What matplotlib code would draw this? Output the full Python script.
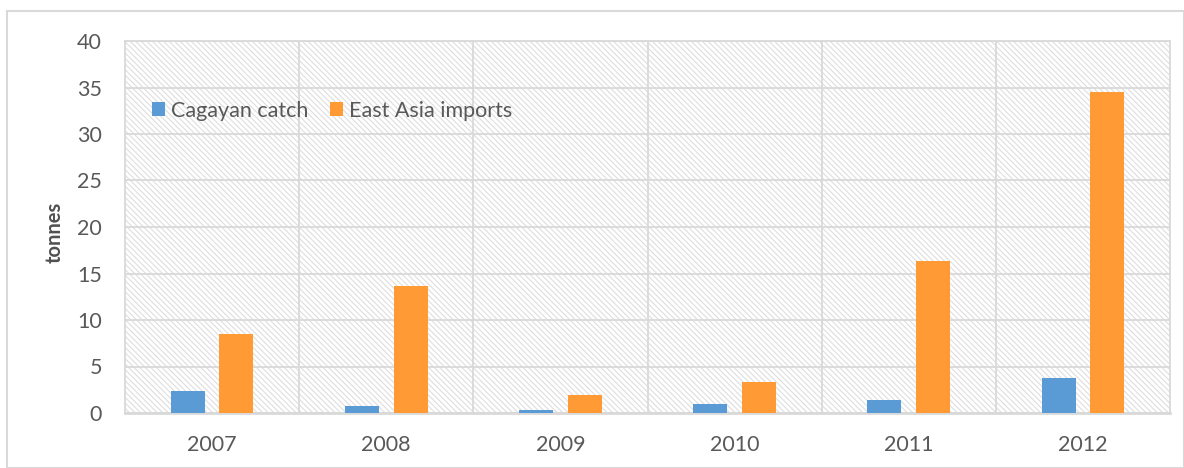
import matplotlib
matplotlib.use("Agg")
import matplotlib.pyplot as plt
import numpy as np
from matplotlib.patches import Rectangle

years = ["2007", "2008", "2009", "2010", "2011", "2012"]
cagayan = [2.4, 0.8, 0.3, 1.0, 1.4, 3.75]
east_asia = [8.5, 13.7, 1.9, 3.3, 16.3, 34.5]

blue = "#5b9bd5"
orange = "#ff9a35"
grid_c = "#d9d9d9"
text_c = "#595959"

plt.rcParams["font.family"] = ["Lato", "DejaVu Sans"]
plt.rcParams["hatch.color"] = "#dedede"
plt.rcParams["hatch.linewidth"] = 0.8

fig = plt.figure(figsize=(11.84, 4.68), dpi=100)
ax = fig.add_axes([125/1184, 55/468, 1045/1184, 372/468])

ax.patch.set_facecolor("white")
ax.patch.set_hatch("\\\\\\\\\\\\")
ax.patch.set_edgecolor("#dedede")

x = np.arange(len(years))
w = 0.195
off = 0.14
ax.bar(x - off, cagayan, w, color=blue, label="Cagayan catch", zorder=3)
ax.bar(x + off, east_asia, w, color=orange, label="East Asia imports", zorder=3)

ax.set_xlim(-0.5, len(years) - 0.5)
ax.set_ylim(0, 40)
ax.set_yticks(range(0, 41, 5))
ax.set_xticks(x)
ax.set_xticklabels(years)
ax.set_xticks(np.arange(0.5, len(years) - 0.5, 1), minor=True)
ax.grid(True, which="major", axis="y", color=grid_c, linewidth=1.3, zorder=1)
ax.grid(True, which="minor", axis="x", color=grid_c, linewidth=1.3, zorder=1)
ax.set_axisbelow(True)
for s in ax.spines.values():
    s.set_color(grid_c)
    s.set_linewidth(1.3)
ax.spines["bottom"].set_linewidth(2)
ax.tick_params(which="both", length=0, colors=text_c, labelsize=15.5)
ax.tick_params(axis="x", pad=16)
ax.tick_params(axis="y", pad=16.5)

ax.set_ylabel("tonnes", fontsize=14.5, fontweight="bold", color="#505050")
ax.yaxis.label.set_verticalalignment("center")
ax.yaxis.set_label_coords(-70/1045, (413 - 232) / 372)

leg = ax.legend(loc="upper left", bbox_to_anchor=(0.009, 0.885), ncol=2, frameon=False,
                fontsize=15.5, handlelength=0.62, handleheight=0.62, handletextpad=0.28,
                columnspacing=1.0, labelcolor=text_c, borderpad=0.3)

fig.patches.append(Rectangle((7/1184, 0), 1 - 7/1184 - 0.5/1184, 1 - 11/468, transform=fig.transFigure,
                             fill=False, edgecolor=grid_c, linewidth=1.5))

fig.savefig("out.png", dpi=100)
